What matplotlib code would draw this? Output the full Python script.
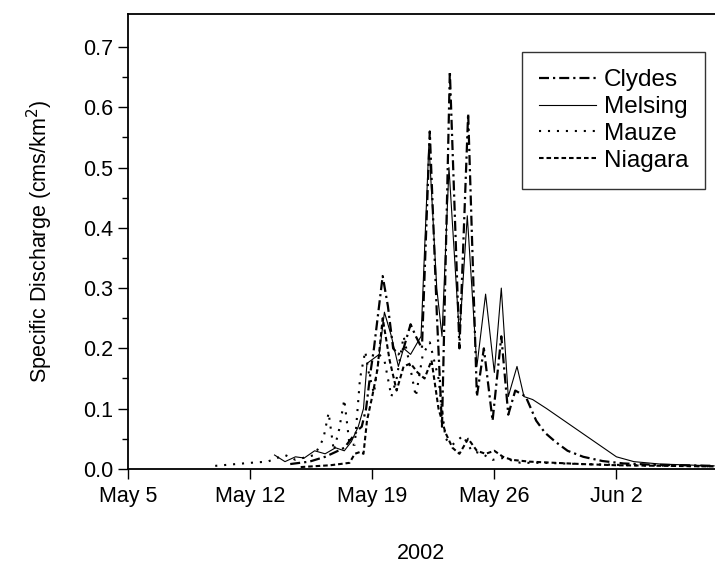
import matplotlib
matplotlib.use("Agg")
import matplotlib.pyplot as plt
import numpy as np
import datetime as dt

plt.rcParams['font.family'] = ['Liberation Sans', 'DejaVu Sans']

# days since May 5, 2002
clydes_t = [9.3, 10.4, 11.3, 11.9, 12.4, 12.8, 13.2, 13.4, 13.65, 13.9, 14.1, 14.35, 14.6, 14.9, 15.2, 15.5,
            15.8, 16.2, 16.5, 16.85, 17.3, 17.7, 18.0, 18.45, 19.0, 19.5, 20.0, 20.4, 20.9, 21.4, 21.8,
            22.2, 22.8, 23.4, 23.9, 24.5, 25.2, 26.1, 27.2, 28.4, 30.0, 33.6]
clydes_v = [0.008, 0.012, 0.02, 0.028, 0.035, 0.05, 0.065, 0.07, 0.10, 0.16, 0.20, 0.26, 0.32, 0.27, 0.20, 0.19,
            0.20, 0.24, 0.22, 0.20, 0.56, 0.26, 0.07, 0.66, 0.20, 0.59, 0.12, 0.20, 0.08, 0.22, 0.09,
            0.13, 0.12, 0.08, 0.06, 0.045, 0.03, 0.02, 0.013, 0.009, 0.007, 0.005]

melsing_t = [8.4, 9.0, 9.6, 10.1, 10.7, 11.3, 11.9, 12.4, 12.8, 13.2, 13.5, 13.7, 14.4, 14.7, 15.1, 15.5,
             15.8, 16.2, 16.8, 17.25, 17.7, 18.0, 18.4, 19.0, 19.45, 20.0, 20.5, 21.0, 21.4, 21.8,
             22.3, 22.7, 23.2, 24.0, 25.0, 26.0, 27.0, 28.0, 29.0, 30.5, 33.6]
melsing_v = [0.023, 0.012, 0.02, 0.018, 0.03, 0.025, 0.035, 0.03, 0.045, 0.07, 0.10, 0.175, 0.19, 0.26, 0.22, 0.17,
             0.20, 0.19, 0.22, 0.54, 0.30, 0.22, 0.50, 0.22, 0.42, 0.17, 0.29, 0.16, 0.30, 0.12,
             0.17, 0.12, 0.115, 0.10, 0.08, 0.06, 0.04, 0.02, 0.012, 0.008, 0.005]

mauze_t = [5.0, 7.0, 8.0, 9.0, 9.6, 10.7, 11.2, 11.5, 11.8, 12.1, 12.4, 12.7, 13.0, 13.3, 13.6, 13.8, 14.1, 14.4,
           14.7, 15.1, 15.4, 15.8, 16.1, 16.5, 16.9, 17.3, 17.8, 18.2, 18.6, 19.2, 19.7, 20.3, 20.9, 21.5,
           22.5, 23.8, 26.0, 29.0, 33.6]
mauze_v = [0.005, 0.01, 0.012, 0.023, 0.015, 0.023, 0.05, 0.093, 0.03, 0.065, 0.115, 0.04, 0.04, 0.15, 0.195,
           0.16, 0.125, 0.19, 0.18, 0.12, 0.15, 0.22, 0.18, 0.12, 0.19, 0.21, 0.15, 0.05, 0.04, 0.055, 0.03,
           0.025, 0.015, 0.018, 0.01, 0.01, 0.008, 0.006, 0.004]

niagara_t = [9.9, 11.6, 12.7, 13.0, 13.3, 13.5, 13.7, 14.0, 14.3, 14.6, 15.0, 15.4, 15.8, 16.2, 16.6, 17.0,
             17.4, 17.8, 18.2, 18.6, 19.0, 19.5, 20.0, 20.5, 21.0, 21.5, 22.0, 23.0, 24.5, 26.0, 28.0, 33.6]
niagara_v = [0.003, 0.006, 0.01, 0.025, 0.028, 0.025, 0.08, 0.12, 0.165, 0.25, 0.18, 0.13, 0.17, 0.175, 0.16, 0.15,
             0.18, 0.10, 0.06, 0.035, 0.025, 0.05, 0.03, 0.025, 0.03, 0.02, 0.015, 0.012, 0.01, 0.008, 0.006, 0.004]

tick_dates = ['2002-05-05', '2002-05-12', '2002-05-19', '2002-05-26', '2002-06-02']
tick_labels = ['May 5', 'May 12', 'May 19', 'May 26', 'Jun 2']

base = dt.datetime(2002, 5, 5)
def to_dates(ts):
    return [base + dt.timedelta(days=t) for t in ts]

fig = plt.figure(figsize=(7.15, 5.81), dpi=100)
ax = fig.add_axes([0.179, 0.193, 0.821, 0.783])

ax.plot(to_dates(clydes_t), clydes_v, color='black', lw=1.6,
        linestyle=(0, (4.5, 1.8, 1, 1.8)), label='Clydes')
ax.plot(to_dates(melsing_t), melsing_v, color='black', lw=0.8, linestyle='-', label='Melsing')
ax.plot(to_dates(mauze_t), mauze_v, color='black', lw=1.5, linestyle=(0, (1, 3.3)), label='Mauze')
ax.plot(to_dates(niagara_t), niagara_v, color='black', lw=1.5, linestyle=(0, (2.2, 1.4)), label='Niagara')

ax.set_xlim(base, base + dt.timedelta(days=33.65))
ax.set_ylim(0, 0.755)
ax.set_xticks([dt.datetime.strptime(d, '%Y-%m-%d') for d in tick_dates])
ax.set_xticklabels(tick_labels)
ax.set_yticks(np.arange(0, 0.71, 0.1))
ax.set_yticks(np.arange(0.05, 0.75, 0.1), minor=True)
ax.yaxis.set_major_formatter(matplotlib.ticker.FormatStrFormatter('%.1f'))
ax.tick_params(axis='both', which='major', direction='out', length=7, width=1, labelsize=15.5)
ax.tick_params(axis='y', which='minor', direction='out', length=4, width=1)
ax.tick_params(axis='x', which='major', pad=5)
for s in ['left', 'bottom', 'top']:
    ax.spines[s].set_linewidth(1.3)
ax.spines['right'].set_visible(False)

ax.set_ylabel('Specific Discharge (cms/km$^2$)', fontsize=15.5, labelpad=20)
ax.set_xlabel('2002', fontsize=15.5, labelpad=26)

leg = ax.legend(loc='upper right', bbox_to_anchor=(0.983, 0.916), fontsize=17.5, frameon=True,
                fancybox=False, edgecolor='black', handlelength=2.35, handletextpad=0.3,
                labelspacing=0.2, borderpad=0.7, borderaxespad=0)
leg.get_frame().set_linewidth(1.0)

fig.savefig('out.png', dpi=100)
